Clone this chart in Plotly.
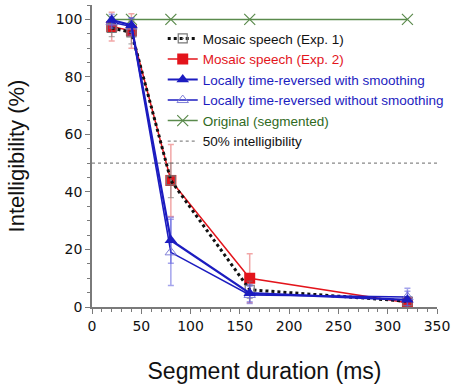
import plotly.graph_objects as go

durations = [20, 40, 80, 160, 320]

exp1_vals = [97.0, 95.5, 44.0, 6.0, 2.0]
exp1_err = [3.0, 4.0, 6.0, 3.0, 1.5]

exp2_vals = [97.5, 96.0, 44.0, 10.0, 1.5]
exp2_err = [5.0, 6.0, 12.5, 8.5, 1.5]

smooth_vals = [99.8, 98.0, 23.2, 4.8, 2.5]
smooth_err = [2.0, 2.5, 8.0, 3.0, 3.0]

nosmooth_vals = [99.0, 97.5, 19.0, 4.2, 3.5]
nosmooth_err = [2.0, 3.0, 11.5, 3.0, 3.0]

orig_vals = [100, 100, 100, 100, 100]

ref_x = [0, 350]
ref_y = [50, 50]

names = [
    "Mosaic speech (Exp. 1)",
    "Mosaic speech (Exp. 2)",
    "Locally time-reversed with smoothing",
    "Locally time-reversed without smoothing",
    "Original (segmented)",
    "50% intelligibility",
]

BLACK = "#111111"
RED = "#e3141b"
BLUE = "#1c1cc0"
BLUE_L = "#7f7fd8"
GREEN = "#5a8a4c"
GRAY = "#888888"


def lab(text, color):
    return f"<span style='color:{color}'>{text}</span>"


fig = go.Figure()

fig.add_trace(go.Scatter(
    x=ref_x, y=ref_y, mode="lines", name=lab(names[5], "#111111"),
    line=dict(color=GRAY, width=1.2, dash="dot"), legendrank=6,
))

fig.add_trace(go.Scatter(
    x=durations, y=orig_vals, mode="lines+markers", name=lab(names[4], "#2f6a22"),
    line=dict(color=GREEN, width=1.5),
    marker=dict(symbol="x-thin-open", size=11, color=GREEN, line=dict(width=1.2, color=GREEN)),
    legendrank=5,
))

fig.add_trace(go.Scatter(
    x=durations, y=exp2_vals, mode="lines+markers", name=lab(names[1], RED),
    line=dict(color=RED, width=1.5),
    marker=dict(symbol="square", size=11, color=RED),
    error_y=dict(type="data", array=exp2_err, visible=True, color="rgba(230,80,80,0.5)", thickness=1.5, width=3),
    legendrank=2,
))

fig.add_trace(go.Scatter(
    x=durations, y=exp1_vals, mode="lines+markers", name=lab(names[0], BLACK),
    line=dict(color=BLACK, width=3, dash="dot"),
    marker=dict(symbol="square-open-dot", size=9, color="#777777", line=dict(width=1.2, color="#777777")),
    error_y=dict(type="data", array=exp1_err, visible=True, color="rgba(120,120,120,0.6)", thickness=1.2, width=3),
    legendrank=1,
))

fig.add_trace(go.Scatter(
    x=durations, y=nosmooth_vals, mode="lines+markers", name=lab(names[3], BLUE),
    line=dict(color=BLUE, width=1.6),
    marker=dict(symbol="triangle-up-open", size=10, color=BLUE_L, line=dict(width=1, color=BLUE_L)),
    error_y=dict(type="data", array=nosmooth_err, visible=True, color="rgba(90,90,220,0.55)", thickness=1.5, width=3),
    legendrank=4,
))

fig.add_trace(go.Scatter(
    x=durations, y=smooth_vals, mode="lines+markers", name=lab(names[2], BLUE),
    line=dict(color=BLUE, width=2.2),
    marker=dict(symbol="triangle-up", size=11, color=BLUE),
    error_y=dict(type="data", array=smooth_err, visible=True, color="rgba(90,90,220,0.55)", thickness=1.5, width=3),
    legendrank=3,
))

axis_common = dict(
    showgrid=False, zeroline=False, showline=True, linecolor="#7a7a7a", linewidth=1.5,
    ticks="outside", ticklen=5, tickwidth=1.2, tickcolor="#7a7a7a",
    tickfont=dict(family="DejaVu Sans", size=14, color="#111111"),
)

fig.update_layout(
    width=455, height=388,
    margin=dict(l=92, r=18, t=5, b=81),
    paper_bgcolor="white", plot_bgcolor="white",
    xaxis=dict(
        range=[0, 350], dtick=50, tick0=0,
        minor=dict(dtick=10, ticks="outside", ticklen=3, tickcolor="#7a7a7a"),
        title=dict(text="Segment duration (ms)", font=dict(family="Liberation Sans", size=23, color="#111111"), standoff=30),
        **axis_common,
    ),
    yaxis=dict(
        range=[0, 105], tickvals=[0, 20, 40, 60, 80, 100],
        minor=dict(dtick=5, ticks="outside", ticklen=3, tickcolor="#7a7a7a"),
        title=dict(text="Intelligibility (%)", font=dict(family="Liberation Sans", size=22, color="#111111"), standoff=25),
        **axis_common,
    ),
    legend=dict(
        x=0.205, y=0.94, xanchor="left", yanchor="top",
        bgcolor="rgba(0,0,0,0)", borderwidth=0,
        font=dict(family="Liberation Sans", size=13.5),
        itemwidth=30,
    ),
    showlegend=True,
)

fig.write_html(
    "out.html",
    config={"displayModeBar": False},
    post_script="document.body.style.margin='0';document.body.style.overflow='hidden';",
)
